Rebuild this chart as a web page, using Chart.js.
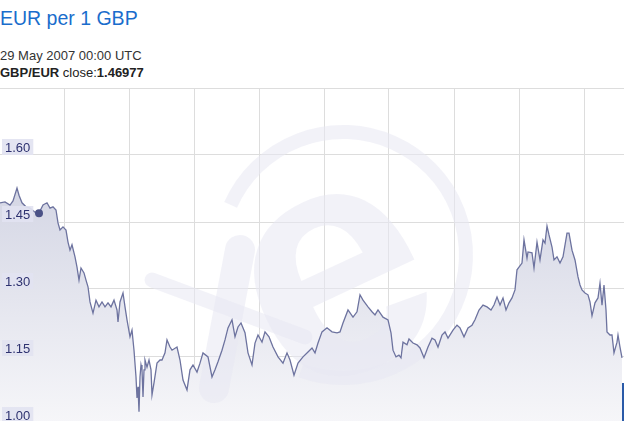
<!DOCTYPE html>
<html>
<head>
<meta charset="utf-8">
<script src="https://cdn.jsdelivr.net/npm/chart.js@4.4.1/dist/chart.umd.min.js"></script>
<style>
  html, body { margin: 0; padding: 0; background: #fff; overflow: hidden; }
  body { width: 624px; height: 421px; position: relative; font-family: "Liberation Sans", Arial, sans-serif; }
  .txt { position: absolute; left: 0; line-height: 1; white-space: nowrap; }
  #title { top: 9px; font-size: 19.5px; color: #1a6dcc; }
  #stamp { top: 49px; font-size: 13px; color: #333; }
  #close { top: 66px; font-size: 13px; color: #222; }
  #plot { position: absolute; left: 0; top: 88px; width: 624px; height: 335px; }
  #marker { position: absolute; left: 622px; top: 383px; width: 2px; height: 38px; background: #2a5aa8; }
</style>
</head>
<body>
<div id="title" class="txt">EUR per 1 GBP</div>
<div id="stamp" class="txt">29 May 2007 00:00 UTC</div>
<div id="close" class="txt"><b>GBP/EUR</b> close:<b>1.46977</b></div>
<div id="plot"><canvas id="chart"></canvas></div>
<div id="marker"></div>
<script>
// ---- data (decimal years / EUR per GBP) ----
const dates = [
  2006.790, 2006.870, 2006.950, 2006.998, 2007.062, 2007.094, 2007.142, 2007.206, 2007.270, 2007.350,
  2007.414, 2007.478, 2007.542, 2007.590, 2007.638, 2007.686, 2007.718, 2007.750, 2007.798, 2007.846,
  2007.878, 2007.910, 2007.942, 2007.990, 2008.022, 2008.054, 2008.086, 2008.134, 2008.166, 2008.198,
  2008.230, 2008.278, 2008.326, 2008.374, 2008.422, 2008.470, 2008.518, 2008.566, 2008.614, 2008.662,
  2008.678, 2008.710, 2008.758, 2008.790, 2008.822, 2008.870, 2008.902, 2008.934, 2008.966, 2008.982,
  2008.998, 2009.014, 2009.030, 2009.046, 2009.062, 2009.078, 2009.094, 2009.110, 2009.142, 2009.174,
  2009.206, 2009.222, 2009.254, 2009.302, 2009.350, 2009.382, 2009.430, 2009.462, 2009.510, 2009.542,
  2009.622, 2009.670, 2009.718, 2009.782, 2009.830, 2009.878, 2009.942, 2009.990, 2010.038, 2010.118,
  2010.182, 2010.230, 2010.278, 2010.342, 2010.390, 2010.438, 2010.502, 2010.550, 2010.598, 2010.646,
  2010.710, 2010.758, 2010.822, 2010.870, 2010.918, 2010.982, 2011.030, 2011.094, 2011.158, 2011.238,
  2011.318, 2011.382, 2011.430, 2011.494, 2011.558, 2011.638, 2011.718, 2011.782, 2011.830, 2011.878,
  2011.942, 2012.022, 2012.102, 2012.182, 2012.230, 2012.278, 2012.358, 2012.438, 2012.502, 2012.550,
  2012.598, 2012.678, 2012.742, 2012.790, 2012.838, 2012.918, 2012.998, 2013.046, 2013.078, 2013.126,
  2013.174, 2013.206, 2013.238, 2013.302, 2013.334, 2013.398, 2013.462, 2013.510, 2013.574, 2013.638,
  2013.702, 2013.750, 2013.798, 2013.862, 2013.910, 2013.958, 2014.038, 2014.102, 2014.150, 2014.214,
  2014.278, 2014.342, 2014.390, 2014.454, 2014.518, 2014.582, 2014.646, 2014.694, 2014.742, 2014.790,
  2014.838, 2014.886, 2014.934, 2014.982, 2015.030, 2015.062, 2015.094, 2015.142, 2015.174, 2015.222,
  2015.238, 2015.302, 2015.334, 2015.382, 2015.430, 2015.478, 2015.510, 2015.542, 2015.574, 2015.622,
  2015.654, 2015.702, 2015.750, 2015.798, 2015.862, 2015.894, 2015.942, 2015.990, 2016.038, 2016.070,
  2016.102, 2016.150, 2016.198, 2016.230, 2016.262, 2016.310, 2016.358, 2016.390, 2016.422, 2016.454,
  2016.486, 2016.502, 2016.550, 2016.582, 2016.614, 2016.662, 2016.678, 2016.710, 2016.742
];
const rates = [
  1.493, 1.495, 1.488, 1.497, 1.526, 1.510, 1.493, 1.484, 1.481, 1.472,
  1.470, 1.488, 1.493, 1.481, 1.484, 1.477, 1.448, 1.432, 1.439, 1.432,
  1.405, 1.387, 1.399, 1.372, 1.349, 1.320, 1.347, 1.336, 1.320, 1.305,
  1.271, 1.246, 1.275, 1.260, 1.271, 1.260, 1.269, 1.260, 1.275, 1.253,
  1.226, 1.271, 1.291, 1.260, 1.231, 1.193, 1.208, 1.163, 1.103, 1.056,
  1.081, 1.025, 1.103, 1.130, 1.119, 1.058, 1.119, 1.141, 1.125, 1.141,
  1.119, 1.063, 1.090, 1.134, 1.141, 1.141, 1.157, 1.186, 1.170, 1.163,
  1.170, 1.141, 1.096, 1.074, 1.119, 1.130, 1.114, 1.134, 1.157, 1.148,
  1.103, 1.119, 1.137, 1.163, 1.186, 1.213, 1.231, 1.193, 1.215, 1.224,
  1.202, 1.157, 1.130, 1.179, 1.197, 1.181, 1.204, 1.193, 1.170, 1.148,
  1.134, 1.157, 1.141, 1.107, 1.134, 1.148, 1.159, 1.168, 1.157, 1.179,
  1.204, 1.213, 1.204, 1.202, 1.204, 1.224, 1.253, 1.237, 1.249, 1.287,
  1.275, 1.260, 1.249, 1.242, 1.253, 1.237, 1.231, 1.202, 1.163, 1.148,
  1.152, 1.146, 1.181, 1.175, 1.188, 1.179, 1.175, 1.168, 1.146, 1.170,
  1.190, 1.186, 1.170, 1.197, 1.204, 1.190, 1.208, 1.219, 1.213, 1.193,
  1.213, 1.219, 1.231, 1.253, 1.264, 1.260, 1.253, 1.264, 1.282, 1.264,
  1.280, 1.253, 1.269, 1.280, 1.298, 1.343, 1.349, 1.358, 1.410, 1.369,
  1.383, 1.381, 1.347, 1.405, 1.365, 1.410, 1.403, 1.441, 1.421, 1.394,
  1.365, 1.372, 1.358, 1.372, 1.425, 1.425, 1.387, 1.365, 1.327, 1.309,
  1.298, 1.291, 1.287, 1.271, 1.240, 1.269, 1.280, 1.313, 1.264, 1.309,
  1.253, 1.204, 1.197, 1.197, 1.157, 1.181, 1.197, 1.170, 1.146
];

// highlighted point: 29 May 2007, close 1.46977
const hoverDate = 2007.414;
const hoverRate = 1.46977;

const xMin = 2006.79;
const xMax = 2016.774;
const xGridYears = [2007.814, 2008.854, 2009.894, 2010.934, 2011.974, 2013.014, 2014.054, 2015.094, 2016.134];

const yMin = 1.00;
const yMax = 1.75;
const yStep = 0.15;
const yTickLabels = ['1.60', '1.45', '1.30', '1.15', '1.00'];

const points = dates.map((d, i) => ({ x: d, y: rates[i] }));

// faint "xe" watermark, drawn over the area fill but under the line
const watermark = {
  id: 'watermark',
  afterDatasetDraw(chart, args) {
    if (args.index !== 0) return;
    const c = chart.ctx;
    c.save();
    c.fillStyle = 'rgba(232,232,242,0.55)';
    c.strokeStyle = 'rgba(232,232,242,0.55)';
    // ring
    c.lineWidth = 14;
    c.beginPath();
    c.arc(343, 167, 123, 204 * Math.PI / 180, (110 + 360) * Math.PI / 180);
    c.stroke();
    // x
    c.lineCap = 'round';
    c.lineWidth = 15;
    c.beginPath(); c.moveTo(152, 192); c.lineTo(305, 249); c.stroke();
    c.lineWidth = 30;
    c.beginPath(); c.moveTo(240, 162); c.lineTo(214, 300); c.stroke();
    // e
    c.translate(337, 196);
    c.rotate(-25 * Math.PI / 180);
    c.font = 'bold 330px "Liberation Sans", Arial, sans-serif';
    c.textAlign = 'center';
    c.fillText('e', 0, 0.27 * 330);
    c.restore();
  }
};

// axis labels sitting just above each grid line, inside the plot
const yLabels = {
  id: 'yLabels',
  afterDatasetsDraw(chart) {
    const c = chart.ctx;
    const ys = chart.scales.y;
    c.save();
    c.font = '13px "Liberation Sans", Arial, sans-serif';
    c.textBaseline = 'alphabetic';
    yTickLabels.forEach(lbl => {
      const py = Math.round(ys.getPixelForValue(parseFloat(lbl)));
      const w = c.measureText(lbl).width;
      c.fillStyle = 'rgba(226,227,241,0.92)';
      c.fillRect(2, py - 16, w + 6, 16);
      c.fillStyle = '#2e3270';
      c.fillText(lbl, 5, py - 3);
    });
    c.restore();
  }
};

new Chart(document.getElementById('chart'), {
  type: 'line',
  data: {
    datasets: [
      {
        data: points,
        borderWidth: 0,
        borderColor: 'rgba(0,0,0,0)',
        pointRadius: 0,
        fill: 'start',
        order: 3,
        backgroundColor: (ctx) => {
          const { chart } = ctx;
          const area = chart.chartArea;
          if (!area) return 'rgba(210,212,228,0.8)';
          const g = chart.ctx.createLinearGradient(0, area.top, 0, area.bottom);
          g.addColorStop(0, '#c6c9dc');
          g.addColorStop(1, '#f6f6f9');
          return g;
        }
      },
      {
        data: points,
        borderColor: '#6d739f',
        borderWidth: 1.3,
        pointRadius: 0,
        fill: false,
        tension: 0,
        order: 2
      },
      {
        data: [{ x: hoverDate, y: hoverRate }],
        showLine: false,
        pointRadius: 4,
        pointHoverRadius: 4,
        pointBackgroundColor: '#4b5287',
        pointBorderWidth: 0,
        order: 1
      }
    ]
  },
  options: {
    responsive: true,
    maintainAspectRatio: false,
    animation: false,
    layout: { padding: 0, autoPadding: false },
    plugins: { legend: { display: false }, tooltip: { enabled: false } },
    scales: {
      x: {
        type: 'linear',
        min: xMin,
        max: xMax,
        afterBuildTicks: (scale) => { scale.ticks = xGridYears.map(v => ({ value: v })); },
        ticks: { display: false },
        grid: { color: '#dddddd', lineWidth: 1, drawTicks: false },
        border: { display: false }
      },
      y: {
        min: yMin,
        max: yMax,
        ticks: { display: false, stepSize: yStep },
        grid: { color: '#dddddd', lineWidth: 1, drawTicks: false },
        border: { display: false }
      }
    }
  },
  plugins: [watermark, yLabels]
});
</script>
</body>
</html>
